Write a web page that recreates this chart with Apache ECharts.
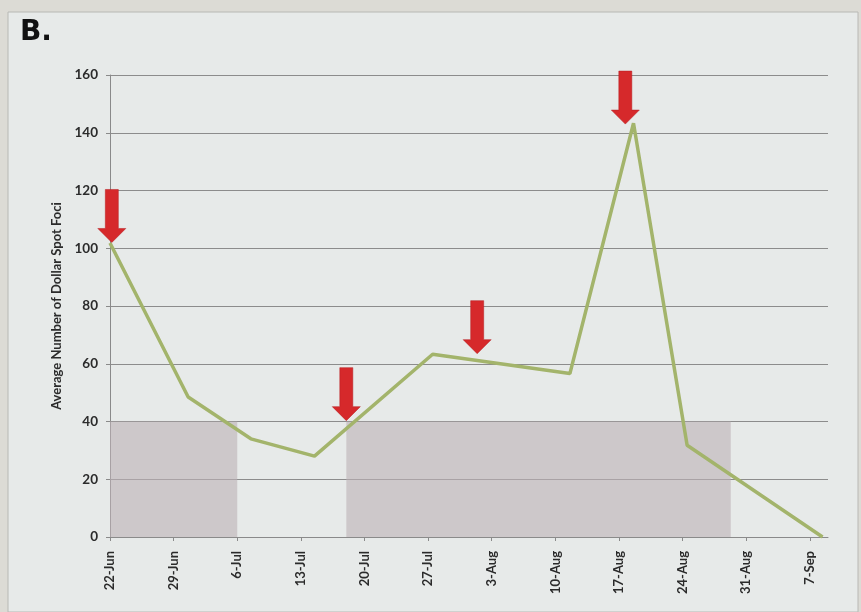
<!DOCTYPE html>
<html>
<head>
<meta charset="utf-8">
<script src="https://cdn.jsdelivr.net/npm/echarts@6/dist/echarts.min.js"></script>
<style>
  html, body { margin: 0; padding: 0; background: #dcdbd5; }
  #chart { width: 861px; height: 612px; }
</style>
</head>
<body>
<div id="chart"></div>
<script>
// x values are days after 22-Jun
var tickDays = [0, 7, 14, 21, 28, 35, 42, 49, 56, 63, 70, 77];
var tickLabels = ['22-Jun', '29-Jun', '6-Jul', '13-Jul', '20-Jul', '27-Jul',
  '3-Aug', '10-Aug', '17-Aug', '24-Aug', '31-Aug', '7-Sep'];

var sampleDays = [0, 8.6, 15.5, 22.5, 35.5, 50.6, 57.6, 63.5, 78.4];
var fociCounts = [101.8, 48.5, 34, 28, 63.3, 56.6, 143.3, 31.8, 0];

// shaded periods [startDay, endDay, height]
var shadedPeriods = [[0, 14, 40], [26, 68.3, 40]];

// arrow tips [day, value]
var arrowTips = [[0.2, 102], [26, 40.3], [40.4, 63.5], [56.7, 143]];

var chart = echarts.init(document.getElementById('chart'));

var arrowPath = 'path://M7.5,0 L20.5,0 L20.5,39 L28,39 L14,53 L0,39 L7.5,39 Z';

var option = {
  backgroundColor: '#dcdbd5',
  animation: false,
  graphic: [{
    type: 'rect',
    z: -10,
    shape: { x: 8, y: 12, width: 850, height: 600 },
    style: { fill: '#e7eae9', stroke: '#b8b8b4', lineWidth: 1 }
  }, {
    type: 'text',
    left: 20,
    top: 19,
    style: { text: 'B.', fontSize: 28, fontWeight: 900, fontFamily: 'DejaVu Sans', fill: '#111' }
  }],
  grid: { left: 110, right: 33, top: 75, bottom: 75 },
  xAxis: {
    type: 'value',
    min: 0,
    max: 79,
    interval: 7,
    splitLine: { show: false },
    axisLine: { lineStyle: { color: '#8a8a8a', width: 1 } },
    axisTick: { show: true, length: 4, customValues: tickDays, lineStyle: { color: '#8a8a8a' } },
    axisLabel: {
      customValues: tickDays,
      rotate: 90,
      margin: 14,
      fontSize: 13,
      fontWeight: 'bold',
      fontFamily: 'Lato',
      color: '#2b2b2b',
      formatter: function (v) {
        var i = tickDays.indexOf(v);
        return i >= 0 ? tickLabels[i] : '';
      }
    }
  },
  yAxis: {
    type: 'value',
    min: 0,
    max: 160,
    interval: 20,
    name: 'Average Number of Dollar Spot Foci',
    nameLocation: 'middle',
    nameGap: 44,
    nameTextStyle: { fontSize: 13, fontFamily: 'Lato', fontWeight: 'bold', color: '#2b2b2b' },
    axisLine: { show: true, lineStyle: { color: '#8a8a8a' } },
    axisTick: { show: true, length: 4, lineStyle: { color: '#8a8a8a' } },
    axisLabel: { margin: 12, fontSize: 13.5, fontWeight: 'bold', fontFamily: 'Lato', color: '#2b2b2b' },
    splitLine: { lineStyle: { color: '#8c8c8c', width: 1 } }
  },
  series: [{
    type: 'line',
    data: [],
    z: 1,
    markArea: {
      silent: true,
      itemStyle: { color: 'rgba(188,176,182,0.6)' },
      data: shadedPeriods.map(function (p) {
        return [{ xAxis: p[0], yAxis: 0 }, { xAxis: p[1], yAxis: p[2] }];
      })
    }
  }, {
    type: 'line',
    z: 3,
    data: sampleDays.map(function (d, i) { return [d, fociCounts[i]]; }),
    symbol: 'none',
    lineStyle: { color: '#a3b46b', width: 3.5 },
    markPoint: {
      silent: true,
      symbol: arrowPath,
      symbolSize: [28, 53],
      symbolOffset: [0, '-50%'],
      itemStyle: { color: '#d6292b', borderColor: '#b81f22', borderWidth: 0.5 },
      label: { show: false },
      data: arrowTips.map(function (a) { return { coord: a }; })
    }
  }]
};

chart.setOption(option);
</script>
</body>
</html>
